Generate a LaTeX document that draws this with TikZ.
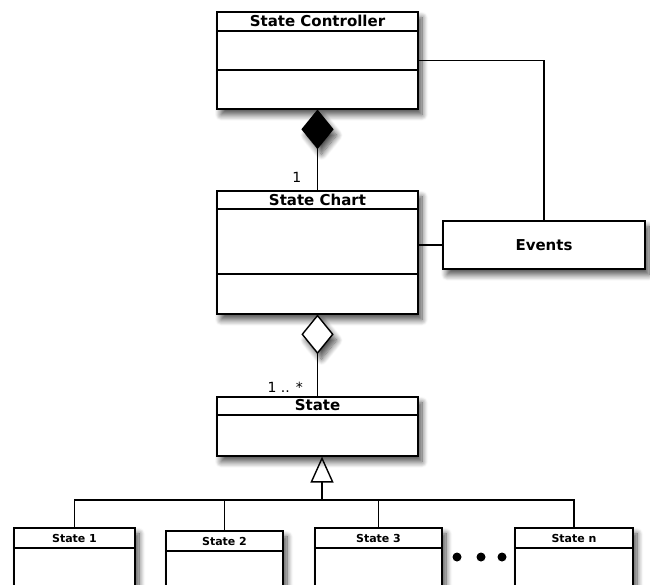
\documentclass[tikz,border=0pt]{standalone}
\usepackage{fontspec}
\setsansfont{DejaVu Sans}
\usetikzlibrary{positioning,shapes.geometric,arrows.meta,shadows.blur}

\tikzset{
  shade/.style={blur shadow={shadow xshift=4pt,shadow yshift=-6pt,shadow blur radius=6pt,shadow blur steps=10,shadow opacity=70}},
  klass/.style={draw,fill=white,line width=1.6pt,anchor=north,inner sep=0pt,shade},
  ktitle/.style={anchor=base,inner sep=0pt,font=\sffamily\bfseries\fontsize{15}{15}\selectfont},
  stitle/.style={anchor=base,inner sep=0pt,font=\sffamily\bfseries\fontsize{11}{11}\selectfont},
  mult/.style={anchor=base east,inner sep=0pt,font=\sffamily\fontsize{14}{14}\selectfont},
  link/.style={line width=1.4pt},
  owns/.style={diamond,draw,line width=1.4pt,fill=black,inner sep=0pt,minimum width=31pt,minimum height=38pt,anchor=north,shade},
  holds/.style={owns,fill=white},
  isa/.style={link,-{Triangle[open,length=26pt,width=23pt]}}
}

\begin{document}
\begin{tikzpicture}[x=1pt,y=-1pt]
  \useasboundingbox (0,0) rectangle (650,584);

  % classes
  \node[klass,minimum width=201pt,minimum height=97pt] (ctrl) at (317.5,11) {};
  \node[ktitle] (ctrlname) at ([yshift=-15pt]ctrl.north) {State Controller};
  \node[klass,minimum width=201pt,minimum height=123pt] (chart) at (317.5,190) {};
  \node[ktitle] (chartname) at ([yshift=-15pt]chart.north) {State Chart};
  \node[klass,minimum width=202pt,minimum height=48pt,font=\sffamily\bfseries\fontsize{15}{15}\selectfont] (events) at (544,220) {Events};
  \node[klass,minimum width=201pt,minimum height=59pt] (state) at (317.5,396) {};
  \node[ktitle] (statename) at ([yshift=-14.5pt]state.north) {State};

  \draw[link] ([yshift=-20pt]ctrl.north west) -- ([yshift=-20pt]ctrl.north east);
  \draw[link] ([yshift=-59pt]ctrl.north west) -- ([yshift=-59pt]ctrl.north east);
  \draw[link] ([yshift=-19pt]chart.north west) -- ([yshift=-19pt]chart.north east);
  \draw[link] ([yshift=-84pt]chart.north west) -- ([yshift=-84pt]chart.north east);
  \draw[link] ([yshift=-19pt]state.north west) -- ([yshift=-19pt]state.north east);

  % sub states
  \foreach \n/\x/\y/\w/\t in {s1/74.5/527/121/State 1,s2/224.5/530/117/State 2,
                              s3/378.5/527/127/State 3,sn/574/527/118/State n} {
    \node[klass,minimum width=\w pt,minimum height=100pt] (\n) at (\x,\y) {};
    \node[stitle] (\n name) at ([yshift=-15pt]\n.north) {\t};
    \draw[link] ([yshift=-21pt]\n.north west) -- ([yshift=-21pt]\n.north east);
  }
  \foreach \x in {457,481,502}
    \fill (\x,557) circle (4.5pt);

  % associations
  \node[owns] (own) at (ctrl.south) {};
  \node[holds] (agg) at (chart.south) {};
  \draw[link] (own) -- (chart);
  \draw[link] (agg) -- (state);
  \node[mult] (one) at ([xshift=-16pt,yshift=8pt]chart.north) {1};
  \node[mult] (many) at ([xshift=-14.5pt,yshift=4pt]state.north) {1 .. *};
  \draw[link] (ctrl.east) -| (events.north);
  \draw[link] (events.west) -- (events.west -| chart.east);

  % generalization
  \coordinate (fork) at (322,500);
  \draw[isa] (fork) -- (fork |- state.south);
  \draw[link] (s1.north) |- (fork) -| (sn.north);
  \draw[link] (s2.north) -- (s2.north |- fork);
  \draw[link] (s3.north) -- (s3.north |- fork);
\end{tikzpicture}
\end{document}
